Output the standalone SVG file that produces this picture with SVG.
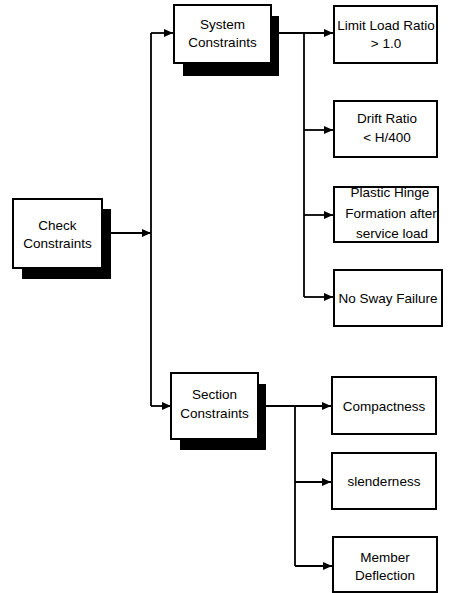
<svg xmlns="http://www.w3.org/2000/svg" width="450" height="593" viewBox="0 0 450 593">
<style>
.box{fill:#fff;stroke:#000;stroke-width:2}
.sh{fill:#000}
.t{font-family:"Liberation Sans",Arial,sans-serif;font-size:13.5px;fill:#000;text-anchor:middle}
.c{fill:none;stroke:#000;stroke-width:1.8}
</style>
<defs>
<marker id="ah" markerWidth="9" markerHeight="8" refX="9" refY="4" orient="auto" markerUnits="userSpaceOnUse">
<path d="M0,0 L9,4 L0,8 Z" fill="#000"/>
</marker>
</defs>
<rect width="450" height="593" fill="#fff"/>
<g id="connectors">
<path class="c" d="M102,233 H151" marker-end="url(#ah)"/>
<path class="c" d="M151,33 V406"/>
<path class="c" d="M151,33 H173" marker-end="url(#ah)"/>
<path class="c" d="M151,406 H171" marker-end="url(#ah)"/>
<path class="c" d="M271,33 H333" marker-end="url(#ah)"/>
<path class="c" d="M304,33 V297"/>
<path class="c" d="M304,130 H333" marker-end="url(#ah)"/>
<path class="c" d="M304,215 H333" marker-end="url(#ah)"/>
<path class="c" d="M304,297 H333" marker-end="url(#ah)"/>
<path class="c" d="M258,406 H331" marker-end="url(#ah)"/>
<path class="c" d="M295,406 V566"/>
<path class="c" d="M295,482 H331" marker-end="url(#ah)"/>
<path class="c" d="M295,566 H332" marker-end="url(#ah)"/>
</g>
<g id="check">
<rect class="sh" x="22" y="209" width="89" height="70"/>
<rect class="box" x="13" y="199" width="89" height="69"/>
<text class="t" x="57.5" y="230">Check</text>
<text class="t" x="57.5" y="248">Constraints</text>
</g>
<g id="system">
<rect class="sh" x="183" y="16" width="96" height="60"/>
<rect class="box" x="174" y="5" width="97" height="58"/>
<text class="t" x="222.5" y="29">System</text>
<text class="t" x="222.5" y="47">Constraints</text>
</g>
<g id="section">
<rect class="sh" x="180" y="384" width="86" height="66"/>
<rect class="box" x="171" y="373" width="87" height="66"/>
<text class="t" x="214.5" y="399">Section</text>
<text class="t" x="214.5" y="418">Constraints</text>
</g>
<g id="limit">
<rect class="box" x="334" y="6" width="103" height="57"/>
<text class="t" x="386" y="30">Limit Load Ratio</text>
<text class="t" x="386" y="48">&gt; 1.0</text>
</g>
<g id="drift">
<rect class="box" x="334" y="101" width="103" height="56"/>
<text class="t" x="387" y="123">Drift Ratio</text>
<text class="t" x="387" y="142">&lt; H/400</text>
</g>
<g id="plastic">
<rect class="box" x="334" y="187" width="104" height="55"/>
<text class="t" x="390" y="197">Plastic Hinge</text>
<text class="t" x="391" y="218">Formation after</text>
<text class="t" x="392" y="238">service load</text>
</g>
<g id="nosway">
<rect class="box" x="334" y="270" width="108" height="56"/>
<text class="t" x="388" y="303">No Sway Failure</text>
</g>
<g id="compact">
<rect class="box" x="332" y="377" width="104" height="57"/>
<text class="t" x="384" y="411">Compactness</text>
</g>
<g id="slender">
<rect class="box" x="332" y="453" width="104" height="56"/>
<text class="t" x="384" y="486">slenderness</text>
</g>
<g id="member">
<rect class="box" x="333" y="537" width="104" height="55"/>
<text class="t" x="385" y="562">Member</text>
<text class="t" x="385" y="580">Deflection</text>
</g>
</svg>
